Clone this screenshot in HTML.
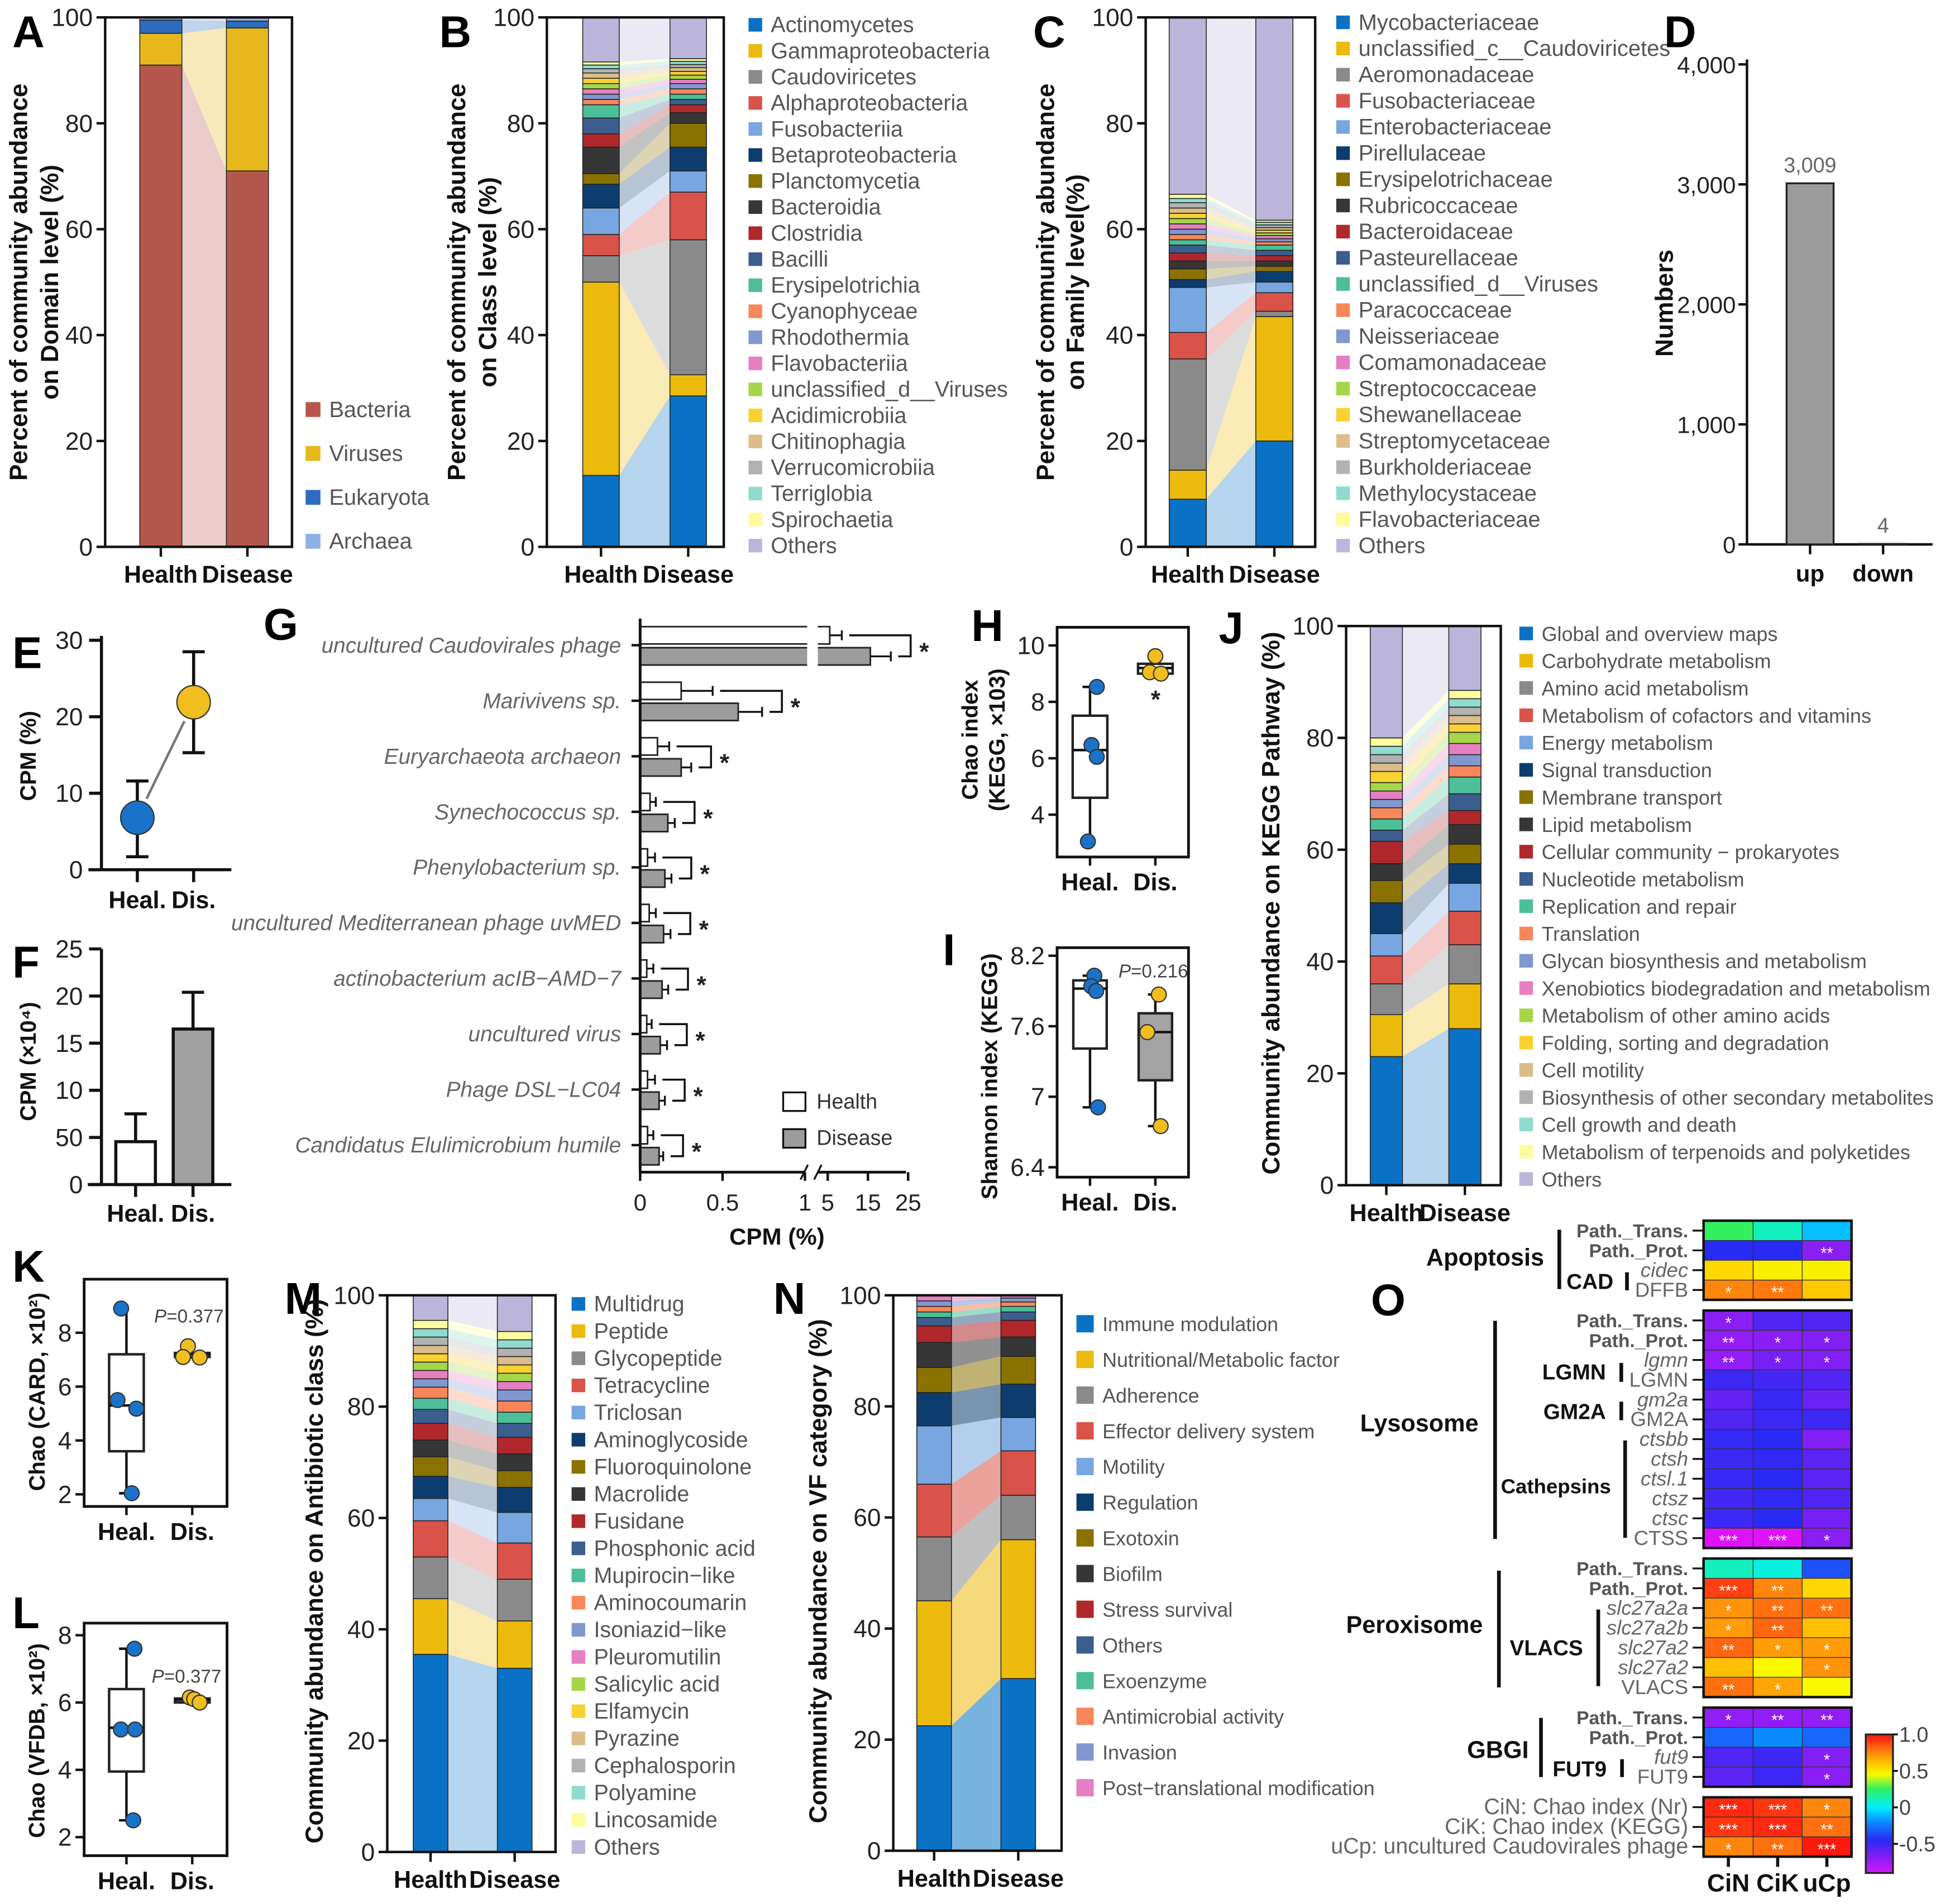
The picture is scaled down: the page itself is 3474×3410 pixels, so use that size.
<!DOCTYPE html>
<html><head><meta charset="utf-8">
<style>
html,body{margin:0;padding:0;background:#fff}
svg{display:block}
text{font-family:"Liberation Sans",Arial,sans-serif}
</style></head>
<body>
<svg id="fig" xmlns="http://www.w3.org/2000/svg" width="3474" height="3410" viewBox="0 0 1568 1539">
<rect x="0" y="0" width="1568" height="1539" fill="#fff"/>
</svg>
<script>
// ---------------- DATA ----------------
const aNames=['Bacteria','Viruses','Eukaryota','Archaea'];
const aHealth=[91,6,2.5,0.5];
const aDisease=[71,27,1.3,0.7];

const bNames=['Actinomycetes','Gammaproteobacteria','Caudoviricetes','Alphaproteobacteria','Fusobacteriia','Betaproteobacteria','Planctomycetia','Bacteroidia','Clostridia','Bacilli','Erysipelotrichia','Cyanophyceae','Rhodothermia','Flavobacteriia','unclassified_d__Viruses','Acidimicrobiia','Chitinophagia','Verrucomicrobiia','Terriglobia','Spirochaetia','Others'];
const bHealth=[13.5,36.5,5,4,5,4.5,2,5,2.5,3,2.5,1,1,1,1,1,1,0.8,0.7,0.6,8.4];
const bDisease=[28.5,4,25.5,9,4,4.5,4.5,2,1.5,1,1,1,1,0.8,0.8,0.7,0.7,0.6,0.6,0.5,7.8];

const cNames=['Mycobacteriaceae','unclassified_c__Caudoviricetes','Aeromonadaceae','Fusobacteriaceae','Enterobacteriaceae','Pirellulaceae','Erysipelotrichaceae','Rubricoccaceae','Bacteroidaceae','Pasteurellaceae','unclassified_d__Viruses','Paracoccaceae','Neisseriaceae','Comamonadaceae','Streptococcaceae','Shewanellaceae','Streptomycetaceae','Burkholderiaceae','Methylocystaceae','Flavobacteriaceae','Others'];
const cHealth=[9,5.5,21,5,8.5,1.5,2,1.5,1.5,1.5,1,1,1,1,1,1,1,1,0.8,0.8,33.4];
const cDisease=[20,23.5,1,3.5,2,2,1,1,1,1,1,0.6,0.6,0.6,0.5,0.5,0.5,0.5,0.5,0.4,38.3];

const dCats=['up','down'];
const dValues=[3009,4];
const dValueLabels=['3,009','4'];
const dTicks=[0,1000,2000,3000,4000];
const dTickLabels=['0','1,000','2,000','3,000','4,000'];

const eGroups=['Heal.','Dis.'];
const eMeans=[6.8,21.9];
const eLow=[1.7,15.3];
const eHigh=[11.6,28.5];
const eTicks=[0,10,20,30];

const fGroups=['Heal.','Dis.'];
const fMeans=[4.55,16.5];
const fErr=[7.5,20.4];
const fTicks=[0,5,10,15,20,25];
const fTickLabels=['0','50','10','15','20','25'];

const gSpecies=['uncultured Caudovirales phage','Marivivens sp.','Euryarchaeota archaeon','Synechococcus sp.','Phenylobacterium sp.','uncultured Mediterranean phage uvMED','actinobacterium acIB\u2212AMD\u22127','uncultured virus','Phage DSL\u2212LC04','Candidatus Elulimicrobium humile'];
const gHealth=[5.5,0.249,0.105,0.06,0.045,0.055,0.04,0.04,0.045,0.045];
const gHealthErr=[8.5,0.44,0.176,0.095,0.09,0.095,0.08,0.07,0.09,0.08];
const gDisease=[15.6,0.595,0.249,0.168,0.15,0.142,0.133,0.122,0.115,0.115];
const gDiseaseErr=[20.7,0.74,0.31,0.21,0.19,0.184,0.17,0.163,0.15,0.14];
const gTicks=[0,0.5,1,5,15,25];
const gTickLabels=['0','0.5','1','5','15','25'];

const hHealthPts=[8.53,6.47,6.05,3.05];
const hHealthBox=[3.05,4.6,6.29,7.51,8.53];
const hDiseasePts=[9.62,9.05,9.0];
const hDiseaseBox=[9.0,9.0,9.2,9.35,9.35];
const hTicks=[4,6,8,10];

const iHealthPts=[8.03,7.94,7.90,6.91];
const iHealthBox=[6.91,7.41,7.92,7.99,8.03];
const iDiseasePts=[7.87,7.55,6.75];
const iDiseaseBox=[6.75,7.14,7.55,7.71,7.87];
const iTicks=[6.4,7,7.6,8.2];
const iTickLabels=['6.4','7','7.6','8.2'];

const jNames=['Global and overview maps','Carbohydrate metabolism','Amino acid metabolism','Metabolism of cofactors and vitamins','Energy metabolism','Signal transduction','Membrane transport','Lipid metabolism','Cellular community \u2212 prokaryotes','Nucleotide metabolism','Replication and repair','Translation','Glycan biosynthesis and metabolism','Xenobiotics biodegradation and metabolism','Metabolism of other amino acids','Folding, sorting and degradation','Cell motility','Biosynthesis of other secondary metabolites','Cell growth and death','Metabolism of terpenoids and polyketides','Others'];
const jHealth=[23,7.5,5.5,5,4,5.5,4,3,4,2,2,2,1.5,1.5,1.5,2,1.5,1.5,1.5,1.5,20];
const jDisease=[28,8,7,6,5,3.5,3.5,3.5,2.5,3,3,2,2,2,2,1.5,1.5,1.5,1.5,1.5,11.5];

const kHealthPts=[8.9,5.5,5.18,2.04];
const kHealthBox=[2.04,3.6,5.3,7.2,8.9];
const kDiseasePts=[7.5,7.1,7.08];
const kDiseaseBox=[7.08,7.1,7.2,7.25,7.5];
const kTicks=[2,4,6,8];

const lHealthPts=[7.6,5.2,5.2,2.5];
const lHealthBox=[2.5,3.95,5.25,6.4,7.6];
const lDiseasePts=[6.15,6.1,6.0];
const lDiseaseBox=[6.0,6.0,6.08,6.12,6.15];
const lTicks=[2,4,6,8];

const mNames=['Multidrug','Peptide','Glycopeptide','Tetracycline','Triclosan','Aminoglycoside','Fluoroquinolone','Macrolide','Fusidane','Phosphonic acid','Mupirocin\u2212like','Aminocoumarin','Isoniazid\u2212like','Pleuromutilin','Salicylic acid','Elfamycin','Pyrazine','Cephalosporin','Polyamine','Lincosamide','Others'];
const mHealth=[35.5,10,7.5,6.5,4,4,3.5,3,3,2.5,2,2,1.5,1.5,1.5,1.5,1.5,1.5,1.5,1.5,4.5];
const mDisease=[33,8.5,7.5,6.5,5.5,4.5,3,3,3,2.5,2,2,2,1.5,1.5,1.5,1.5,1.5,1.5,1.5,6.5];

const nNames=['Immune modulation','Nutritional/Metabolic factor','Adherence','Effector delivery system','Motility','Regulation','Exotoxin','Biofilm','Stress survival','Others','Exoenzyme','Antimicrobial activity','Invasion','Post\u2212translational modification'];
const nHealth=[22.5,22.5,11.5,9.5,10.5,6,4.5,4.5,3,1.5,1,1,1,1];
const nDisease=[31,25,8,8,6,6,5,3.5,3,1.5,1,0.8,0.7,0.5];

const oColumns=['CiN','CiK','uCp'];
const oRowLabels=[
 ['Path._Trans.','Path._Prot.','cidec','DFFB'],
 ['Path._Trans.','Path._Prot.','lgmn','LGMN','gm2a','GM2A','ctsbb','ctsh','ctsl.1','ctsz','ctsc','CTSS'],
 ['Path._Trans.','Path._Prot.','slc27a2a','slc27a2b','slc27a2','slc27a2','VLACS'],
 ['Path._Trans.','Path._Prot.','fut9','FUT9'],
 ['CiN: Chao index (Nr)','CiK: Chao index (KEGG)','uCp: uncultured Caudovirales phage']];
const oValues=[
 [[0.25,0.1,-0.1],[-0.45,-0.45,-0.7],[0.55,0.48,0.48],[0.75,0.78,0.6]],
 [[-0.7,-0.55,-0.55],[-0.72,-0.7,-0.68],[-0.72,-0.65,-0.68],[-0.5,-0.52,-0.55],[-0.6,-0.48,-0.62],[-0.55,-0.5,-0.5],[-0.48,-0.45,-0.68],[-0.5,-0.47,-0.58],[-0.48,-0.45,-0.58],[-0.52,-0.47,-0.55],[-0.5,-0.45,-0.65],[-0.92,-0.92,-0.7]],
 [[0.1,0.05,-0.35],[0.9,0.75,0.55],[0.72,0.8,0.8],[0.7,0.82,0.62],[0.82,0.7,0.7],[0.62,0.45,0.72],[0.8,0.68,0.45]],
 [[-0.72,-0.72,-0.72],[-0.3,-0.2,-0.3],[-0.55,-0.5,-0.68],[-0.58,-0.5,-0.7]],
 [[0.95,0.92,0.75],[0.92,0.95,0.8],[0.75,0.8,0.98]]];
const oStars=[
 [['','',''],['','','**'],['','',''],['*','**','']],
 [['*','',''],['**','*','*'],['**','*','*'],['','',''],['','',''],['','',''],['','',''],['','',''],['','',''],['','',''],['','',''],['***','***','*']],
 [['','',''],['***','**',''],['*','**','**'],['*','**',''],['**','*','*'],['','','*'],['**','*','']],
 [['*','**','**'],['','',''],['','','*'],['','','*']],
 [['***','***','*'],['***','***','**'],['*','**','***']]];
const oColorbarTicks=[1.0,0.5,0,-0.5];
const oColorbarLabels=['1.0','0.5','0','-0.5'];

// ---------------- STYLE ----------------
const palette=['#0a72c4','#ecba0c','#8a8a8a','#d9534a','#78a6e0','#0d3d6e','#8a7200','#363636','#b0282c','#3c5e8e','#4cbf98','#f7875a','#8197cf','#e67fc2','#a5d64a','#f7d232','#dcbd8a','#b2b2b2','#8fdccf','#fdfb9d'];
const othersColor='#bcb5db';
const aColors=['#b5574d','#e6b81c','#2e6cc0','#8fb0e3'];
const BLUE='#1a73c8', YEL='#f0be1e';

// ---------------- HELPERS ----------------
const NS='http://www.w3.org/2000/svg';
const svg=document.getElementById('fig');
function el(tag,attrs,name,inter){
 const e=document.createElementNS(NS,tag);
 for(const k in attrs) e.setAttribute(k,attrs[k]);
 
 
 svg.appendChild(e); return e;
}
function T(x,y,s,name,o){
 o=o||{};
 const a={x:x,y:y,'font-size':o.fs||16,'text-anchor':o.a||'start',fill:o.c||'#1a1a1a'};
 if(o.b) a['font-weight']='bold';
 if(o.i) a['font-style']='italic';
 if(o.r!==undefined) a.transform='rotate('+o.r+' '+x+' '+y+')';
 const e=el('text',a,name,false); e.textContent=s; return e;
}
function L(x1,y1,x2,y2,name,w,c){return el('line',{x1:x1,y1:y1,x2:x2,y2:y2,stroke:c||'#111','stroke-width':w||2},name,false);}
function R(x,y,w,h,fill,name,stroke,sw){return el('rect',{x:x,y:y,width:w,height:h,fill:fill,stroke:stroke||'none','stroke-width':sw||0},name,false);}
function slug(s){return s.toLowerCase().replace(/[^a-z0-9]+/g,'-').replace(/^-|-$/g,'');}
function letter(s,x,y){T(x,y,s,'panel-label-'+s.toLowerCase(),{fs:36,b:true,c:'#000'});}
function ytitle(lines,xs,cy,name,fs){lines.forEach((s,k)=>T(xs[k],cy,s,name+(k?'-line2':''),{fs:fs||20,b:true,a:'middle',r:-90,c:'#111'}));}

// ---------------- STACKED BARS ----------------
function stacked(p){
 const y=v=>p.yb-(p.yb-p.yt)*v/100;
 const cols=p.colors;
 let ch=0,cd=0;
 for(let i=0;i<p.h.length;i++){
  const h0=ch,h1=ch+p.h[i],d0=cd,d1=cd+p.d[i];
  el('polygon',{points:(p.hx+p.bw)+','+y(h0)+' '+(p.hx+p.bw)+','+y(h1)+' '+p.dx+','+y(d1)+' '+p.dx+','+y(d0),fill:cols[i],'fill-opacity':p.op||0.3},p.id+'-band-'+slug(p.names[i]),false);
  R(p.hx,y(h1),p.bw,y(h0)-y(h1),cols[i],p.id+'-health-'+slug(p.names[i]),'#222',0.7);
  R(p.dx,y(d1),p.bw,y(d0)-y(d1),cols[i],p.id+'-disease-'+slug(p.names[i]),'#222',0.7);
  ch=h1; cd=d1;
 }
 R(p.ax,p.yt,p.rx-p.ax,p.yb-p.yt,'none',p.id+'-frame','#111',2);
 [0,20,40,60,80,100].forEach(t=>{
  L(p.ax-7,y(t),p.ax,y(t),p.id+'-ytick',2);
  T(p.ax-10,y(t)+7,String(t),p.id+'-ytick-label',{fs:20,a:'end',c:'#222'});
 });
 const hc=p.hx+p.bw/2, dc=p.dx+p.bw/2;
 L(hc,p.yb,hc,p.yb+8,p.id+'-xtick',2); L(dc,p.yb,dc,p.yb+8,p.id+'-xtick',2);
 T(hc,p.yb+29,'Health',p.id+'-xlabel-health',{fs:19.5,b:true,a:'middle',c:'#111'});
 T(dc,p.yb+29,'Disease',p.id+'-xlabel-disease',{fs:19.5,b:true,a:'middle',c:'#111'});
 const sq=p.sq||11;
 p.names.forEach((n,i)=>{
  const ly=p.ly0+i*p.ldy;
  R(p.lx,ly-sq/2,sq,sq,cols[i],p.id+'-legend-swatch-'+slug(n));
  T(p.lx+sq+7,ly+6,n,p.id+'-legend-'+slug(n),{fs:p.lfs||16,c:'#555'});
 });
}
function cols21(n){const c=palette.slice(0,n-1);c.push(othersColor);return c;}

// Panel A
letter('A',10,38);
stacked({id:'a',names:aNames,h:aHealth,d:aDisease,colors:aColors,ax:85,rx:236,yt:14,yb:442,hx:113,dx:183,bw:34,lx:247,ly0:331,ldy:35.5,sq:12,lfs:18});
ytitle(['Percent of community abundance','on Domain level (%)'],[22,47],228,'a-y-title');

// Panel B
letter('B',355,38);
stacked({id:'b',names:bNames,h:bHealth,d:bDisease,colors:cols21(21),ax:442,rx:585,yt:14,yb:442,hx:471,dx:541.5,bw:29.5,lx:605,ly0:20,ldy:21.05,lfs:17.8});
ytitle(['Percent of community abundance','on Class level (%)'],[376,401],228,'b-y-title');

// Panel C
letter('C',835,38);
stacked({id:'c',names:cNames,h:cHealth,d:cDisease,colors:cols21(21),ax:926,rx:1063,yt:14,yb:442,hx:945,dx:1015,bw:30,lx:1080,ly0:18,ldy:21.15,lfs:18});
ytitle(['Percent of community abundance','on Family level(%)'],[852,876],228,'c-y-title');

// Panel D
letter('D',1345,38);
(function(){
 const ax=1412,yb=440;
 const y=v=>yb-v*388/4000;
 L(ax,48,ax,yb,'d-y-axis',2);
 L(ax,yb,1562,yb,'d-x-axis',2);
 dTicks.forEach((t,k)=>{L(ax-7,y(t),ax,y(t),'d-ytick',2);T(ax-9,y(t)+7,dTickLabels[k],'d-ytick-label',{fs:19,a:'end',c:'#222'});});
 const xs=[1444,1503];
 dCats.forEach((c,k)=>{
  R(xs[k],y(dValues[k]),38,yb-y(dValues[k]),'#9b9b9b','d-bar-'+c,'#222',1.5);
  L(xs[k]+19,yb,xs[k]+19,yb+8,'d-xtick',2);
  T(xs[k]+19,yb+30,c,'d-xlabel-'+c,{fs:19,b:true,a:'middle',c:'#111'});
  T(xs[k]+19,y(dValues[k])-9,dValueLabels[k],'d-value-'+c,{fs:17,a:'middle',c:'#666'});
 });
 ytitle(['Numbers'],[1352],245,'d-y-title');
})();

// Panel E
letter('E',10,540);
(function(){
 const ax=82,yb=703;
 const y=v=>yb-v*6.183;
 const xs=[111,156.5];
 L(ax,514,ax,yb,'e-y-axis',2.5); L(71.5,yb,187,yb,'e-x-axis',2.5);
 eTicks.forEach(t=>{L(ax-10,y(t),ax,y(t),'e-ytick',2.5);T(ax-15,y(t)+7,String(t),'e-ytick-label',{fs:20,a:'end',c:'#222'});});
 const x1=xs[0],y1=y(eMeans[0]),x2=xs[1],y2=y(eMeans[1]);
 const dx=x2-x1,dy=y2-y1,len=Math.hypot(dx,dy),ux=dx/len,uy=dy/len;
 L(x1+ux*17,y1+uy*17,x2-ux*17,y2-uy*17,'e-trend-line',2,'#777');
 eGroups.forEach((g,k)=>{
  L(xs[k],y(eLow[k]),xs[k],y(eHigh[k]),'e-errorbar-'+slug(g),2.5);
  L(xs[k]-9,y(eLow[k]),xs[k]+9,y(eLow[k]),'e-errorcap',2.5);
  L(xs[k]-9,y(eHigh[k]),xs[k]+9,y(eHigh[k]),'e-errorcap',2.5);
  el('circle',{cx:xs[k],cy:y(eMeans[k]),r:13.5,fill:k?YEL:BLUE,stroke:'#333','stroke-width':1},'e-point-'+slug(g),false);
  L(xs[k],yb,xs[k],yb+10,'e-xtick',2.5);
  T(xs[k],yb+31,g,'e-xlabel-'+slug(g),{fs:19.5,b:true,a:'middle',c:'#111'});
 });
 ytitle(['CPM (%)'],[29],611,'e-y-title',18);
})();

// Panel F
letter('F',10,790);
(function(){
 const ax=82,yb=957.5;
 const y=v=>yb-v*7.62;
 const xs=[93.6,140],bw=32;
 L(ax,767,ax,yb,'f-y-axis',2.5); L(71,yb,187,yb,'f-x-axis',2.5);
 fTicks.forEach((t,k)=>{L(ax-10,y(t),ax,y(t),'f-ytick',2.5);T(ax-15,y(t)+7,fTickLabels[k],'f-ytick-label',{fs:20,a:'end',c:'#222'});});
 fGroups.forEach((g,k)=>{
  const cx=xs[k]+bw/2;
  L(cx,y(fMeans[k]),cx,y(fErr[k]),'f-errorbar-'+slug(g),2.5);
  L(cx-9,y(fErr[k]),cx+9,y(fErr[k]),'f-errorcap',2.5);
  R(xs[k],y(fMeans[k]),bw,yb-y(fMeans[k]),k?'#a0a0a0':'#fff','f-bar-'+slug(g),'#111',2.5);
  L(cx,yb,cx,yb+10,'f-xtick',2.5);
  T(cx,yb+30,g,'f-xlabel-'+slug(g),{fs:19.5,b:true,a:'middle',c:'#111'});
 });
 ytitle(['CPM (\u00d710\u2074)'],[29],858,'f-y-title',18);
})();

// Panel G
letter('G',213,517);
(function(){
 const x0=517.4;
 const gx=v=>v<=1?x0+v*133.2:(v<=5?650.6+(v-1)/4*18.4:669+(v-5)*3.25);
 const cyOf=i=>521.5+i*44.9;
 const yb=947.5;
 gSpecies.forEach((s,i)=>{
  const cy=cyOf(i);
  R(x0,cy-15,gx(gHealth[i])-x0,14,'#fff','g-bar-health-'+slug(s),'#222',1.3);
  R(x0,cy+2,gx(gDisease[i])-x0,14,'#9c9c9c','g-bar-disease-'+slug(s),'#222',1.3);
  const he=gx(gHealthErr[i]),de=gx(gDiseaseErr[i]);
  L(gx(gHealth[i]),cy-8,he,cy-8,'g-err-health',1.5); L(he,cy-12,he,cy-4,'g-errcap',1.5);
  L(gx(gDisease[i]),cy+9,de,cy+9,'g-err-disease',1.5); L(de,cy+5,de,cy+13,'g-errcap',1.5);
  const bx=Math.max(he,de)+16;
  L(he+6,cy-8,bx,cy-8,'g-bracket',1.6); L(de+6,cy+9,bx,cy+9,'g-bracket',1.6); L(bx,cy-8.8,bx,cy+9.8,'g-bracket',1.6);
  T(bx+7,cy+12,'*','g-significance-'+slug(s),{fs:20,b:true,c:'#222'});
  L(x0-7,cy,x0,cy,'g-ytick',2);
  T(502,cy+6,s,'g-category-'+slug(s),{fs:17.5,i:true,a:'end',c:'#666'});
 });
 R(652.4,cyOf(0)-17,8.6,35,'#fff','g-axis-break-gap');
 L(x0,500,x0,yb,'g-y-axis',2.2);
 L(x0,yb,651,yb,'g-x-axis',2.2); L(661,yb,732.3,yb,'g-x-axis-upper',2.2);
 L(647,yb+6,653,yb-6,'g-break-mark',1.5); L(658,yb+6,664,yb-6,'g-break-mark',1.5);
 gTicks.forEach((t,k)=>{L(gx(t),yb,gx(t),yb+7,'g-xtick',2);T(gx(t),yb+31,gTickLabels[k],'g-xtick-label',{fs:19,a:'middle',c:'#222'});});
 T(628,1006,'CPM (%)','g-x-title',{fs:19,b:true,a:'middle',c:'#111'});
 R(633,883,18,15,'#fff','g-legend-swatch-health','#111',1.5);
 T(660,896,'Health','g-legend-health',{fs:17,c:'#333'});
 R(633,912.7,18,15,'#9c9c9c','g-legend-swatch-disease','#111',1.5);
 T(660,925.5,'Disease','g-legend-disease',{fs:17,c:'#333'});
})();

// ---------------- BOX PLOTS ----------------
function boxplot(p){
 const y=p.y;
 R(p.fx0,p.fy0,p.fx1-p.fx0,p.fy1-p.fy0,'none',p.id+'-frame','#111',2.2);
 p.ticks.forEach((t,k)=>{L(p.fx0-7,y(t),p.fx0,y(t),p.id+'-ytick',2);T(p.fx0-10,y(t)+7,p.tickLabels?p.tickLabels[k]:String(t),p.id+'-ytick-label',{fs:20,a:'end',c:'#222'});});
 const groups=[{n:'health',box:p.hBox,pts:p.hPts,cx:p.hcx,fill:'#fff',col:BLUE,off:p.hOff,lab:'Heal.'},{n:'disease',box:p.dBox,pts:p.dPts,cx:p.dcx,fill:p.dFill||'#fff',col:YEL,off:p.dOff,lab:'Dis.'}];
 groups.forEach(g=>{
  const b=g.box,bw=p.bw;
  L(g.cx,y(b[0]),g.cx,y(b[4]),p.id+'-whisker-'+g.n,2);
  L(g.cx-6,y(b[0]),g.cx+2,y(b[0]),p.id+'-whisker-cap',2);
  L(g.cx-6,y(b[4]),g.cx+2,y(b[4]),p.id+'-whisker-cap',2);
  R(g.cx-bw/2,y(b[3]),bw,Math.max(2,y(b[1])-y(b[3])),g.fill,p.id+'-box-'+g.n,'#222',2);
  L(g.cx-bw/2,y(b[2]),g.cx+bw/2,y(b[2]),p.id+'-median-'+g.n,2);
  g.pts.forEach((v,k)=>{el('circle',{cx:g.cx+g.off[k],cy:y(v),r:p.r||6,fill:g.col,stroke:'#333','stroke-width':1},p.id+'-point-'+g.n,false);});
  L(g.cx,p.fy1,g.cx,p.fy1+7,p.id+'-xtick',2);
  T(g.cx,p.fy1+27,g.lab,p.id+'-xlabel-'+g.n,{fs:19.5,b:true,a:'middle',c:'#111'});
 });
}

// H
letter('H',785,518);
boxplot({id:'h',y:v=>521.7+(10-v)*22.8,fx0:854.4,fx1:960.6,fy0:507,fy1:692.7,ticks:hTicks,hBox:hHealthBox,hPts:hHealthPts,dBox:hDiseaseBox,dPts:hDiseasePts,hcx:881,dcx:933.8,bw:28,hOff:[5.5,1.2,5.5,-1.7],dOff:[0,-4.5,4.5]});
T(934,572,'*','h-significance',{fs:20,b:true,a:'middle',c:'#222'});
ytitle(['Chao index','(KEGG, \u00d7103)'],[790,812],598,'h-y-title',18);

// I
letter('I',762,780);
boxplot({id:'i',y:v=>772.5+(8.2-v)*95,fx0:854.4,fx1:960.6,fy0:766,fy1:951.5,ticks:iTicks,tickLabels:iTickLabels,hBox:iHealthBox,hPts:iHealthPts,dBox:iDiseaseBox,dPts:iDiseasePts,dFill:'#a3a3a3',hcx:881,dcx:933.8,bw:27,hOff:[3.5,1,5,6.5],dOff:[2.8,-6.5,4.3]});
T(904,790,'P','i-pvalue-p',{fs:15,i:true,c:'#444'});
T(914,790,'=0.216','i-pvalue',{fs:15,c:'#444'});
ytitle(['Shannon index (KEGG)'],[806],870,'i-y-title',18);

// K
letter('K',10,1036);
boxplot({id:'k',y:v=>1207.9-(v-2)*21.77,fx0:68,fx1:183.5,fy0:1034,fy1:1217.7,ticks:kTicks,hBox:kHealthBox,hPts:kHealthPts,dBox:kDiseaseBox,dPts:kDiseasePts,hcx:102.2,dcx:155.4,bw:28,r:6,hOff:[-4.3,-7.2,8,4.3],dOff:[-3.5,-7.5,6]});
T(124.6,1069,'P','k-pvalue-p',{fs:15,i:true,c:'#444'});
T(134.6,1069,'=0.377','k-pvalue',{fs:15,c:'#444'});
ytitle(['Chao (CARD, \u00d710\u00b2)'],[36],1125,'k-y-title',18);

// L
letter('L',10,1316);
boxplot({id:'l',y:v=>1485-(v-2)*27.2,fx0:68,fx1:183.5,fy0:1312,fy1:1500,ticks:lTicks,hBox:lHealthBox,hPts:lHealthPts,dBox:lDiseaseBox,dPts:lDiseasePts,hcx:102.2,dcx:155.4,bw:28,r:6,hOff:[6.5,-4.5,7,5.5],dOff:[-2,1.5,6]});
T(122.6,1360,'P','l-pvalue-p',{fs:15,i:true,c:'#444'});
T(132.6,1360,'=0.377','l-pvalue',{fs:15,c:'#444'});
ytitle(['Chao (VFDB, \u00d710\u00b2)'],[36],1407,'l-y-title',18);

// J
letter('J',985,520);
stacked({id:'j',names:jNames,h:jHealth,d:jDisease,colors:cols21(21),ax:1088,rx:1213,yt:506,yb:958,hx:1107.5,dx:1171,bw:26,lx:1228,ly0:512,ldy:22.05,lfs:16.2});
ytitle(['Community abundance on KEGG Pathway (%)'],[1034],730,'j-y-title');

// M
letter('M',230,1062);
stacked({id:'m',names:mNames,h:mHealth,d:mDisease,colors:cols21(21),ax:313,rx:449,yt:1047,yb:1497,hx:334,dx:402,bw:28,lx:462,ly0:1054,ldy:21.95,lfs:17.8});
ytitle(['Community abundance on Antibiotic class (%)'],[261],1270,'m-y-title');

// N
letter('N',625,1062);
stacked({id:'n',names:nNames,h:nHealth,d:nDisease,colors:palette.slice(0,14),op:0.55,ax:722,rx:858,yt:1047,yb:1496,hx:741,dx:809,bw:28,lx:870,ly0:1070,ldy:28.85,sq:14,lfs:16.2});
ytitle(['Community abundance on VF category (%)'],[668],1270,'n-y-title');

// ---------------- HEATMAP O ----------------
const cmapStops=[[-1,[255,0,255]],[-0.9,[214,24,250]],[-0.7,[138,30,245]],[-0.45,[42,42,245]],[-0.2,[10,140,255]],[0,[0,240,255]],[0.25,[48,240,96]],[0.45,[248,248,0]],[0.6,[255,200,0]],[0.8,[255,112,16]],[1,[255,16,16]]];
function cmap(v){
 v=Math.max(-1,Math.min(1,v));
 for(let i=0;i<cmapStops.length-1;i++){
  const a=cmapStops[i],b=cmapStops[i+1];
  if(v>=a[0]&&v<=b[0]){const t=(v-a[0])/(b[0]-a[0]);const c=a[1].map((x,k)=>Math.round(x+(b[1][k]-x)*t));return 'rgb('+c.join(',')+')';}
 }
 return 'rgb(255,16,16)';
}
letter('O',1108,1063);
(function(){
 const colX=[1376.9,1417,1456.6,1496.5];
 const groupTop=[986.7,1059.3,1259.8,1380.3,1452.8];
 const rh=16;
 oRowLabels.forEach((rows,g)=>{
  rows.forEach((lab,r)=>{
   const y0=groupTop[g]+r*rh;
   oColumns.forEach((c,k)=>{
    R(colX[k],y0,colX[k+1]-colX[k],rh,cmap(oValues[g][r][k]),'o-cell-'+slug(lab)+'-'+c.toLowerCase(),'#333',0.6);
    const s=oStars[g][r][k];
    if(s) T((colX[k]+colX[k+1])/2,y0+rh/2+6.5,s,'o-star',{fs:13,a:'middle',c:'#fff'});
   });
   const isPath=lab.indexOf('Path.')===0;
   const isItal=!isPath&&g<4&&lab===lab.toLowerCase();
   L(1368,y0+rh/2,1377,y0+rh/2,'o-row-tick',1.5);
   const fs=g===4?17.8:(isPath?15.2:16.5);
   T(1364.5,y0+rh/2+5.5,lab,'o-row-label-'+slug(lab),{fs:fs,a:'end',b:isPath,i:isItal,c:isPath?'#555':'#666'});
  });
  const yEnd=groupTop[g]+rows.length*rh;
  R(colX[0],groupTop[g],colX[3]-colX[0],yEnd-groupTop[g],'none','o-group-frame','#111',2);
 });
 const ann=[['Apoptosis',1248,1023,19.5],['CAD',1304,1042,17.5],['Lysosome',1195,1157,19.5],['LGMN',1298,1115,17.5],['GM2A',1298,1147,17.5],['Cathepsins',1302,1207,16.5],['Peroxisome',1198.5,1320,19.5],['VLACS',1279.5,1338,17.5],['GBGI',1235.6,1421,19.5],['FUT9',1298.6,1436,17.5]];
 ann.forEach(a=>T(a[1],a[2],a[0],'o-group-'+slug(a[0]),{fs:a[3],b:true,a:'end',c:'#111'}));
 const bars=[[1260.3,994,1042],[1315,1028.4,1043],[1208.4,1067.6,1244],[1310.4,1101.7,1117],[1310.4,1133,1148],[1313.5,1164.4,1243],[1211.5,1269.6,1364],[1291.8,1301,1363],[1245.5,1388.6,1436.5],[1311,1422,1436.5]];
 bars.forEach(b=>L(b[0],b[1],b[0],b[2],'o-group-bracket',3));
 oColumns.forEach((c,k)=>{
  const cx=(colX[k]+colX[k+1])/2;
  L(cx,1500,cx,1509,'o-col-tick',2.5);
  T(cx,1529,c,'o-col-label-'+c.toLowerCase(),{fs:20,b:true,a:'middle',c:'#111'});
 });
 const defs=el('defs',{},'o-defs',false);
 const grad=document.createElementNS(NS,'linearGradient');
 grad.setAttribute('id','cbar');grad.setAttribute('x1','0');grad.setAttribute('y1','0');grad.setAttribute('x2','0');grad.setAttribute('y2','1');
 defs.appendChild(grad);
 const vTop=1.0,vBot=-0.9;
 for(let k=0;k<=38;k++){const v=vTop-(vTop-vBot)*k/38;const st=document.createElementNS(NS,'stop');st.setAttribute('offset',(k/38));st.setAttribute('stop-color',cmap(v));grad.appendChild(st);}
 const cy=v=>1402+(vTop-v)/(vTop-vBot)*112;
 R(1508,1402,22,112,'url(#cbar)','o-colorbar','#222',1.5);
 oColorbarTicks.forEach((t,k)=>{L(1530,cy(t),1534,cy(t),'o-colorbar-tick',1.5);T(1535,cy(t)+6,oColorbarLabels[k],'o-colorbar-label',{fs:17,c:'#444'});});
})();
</script>
</body></html>
